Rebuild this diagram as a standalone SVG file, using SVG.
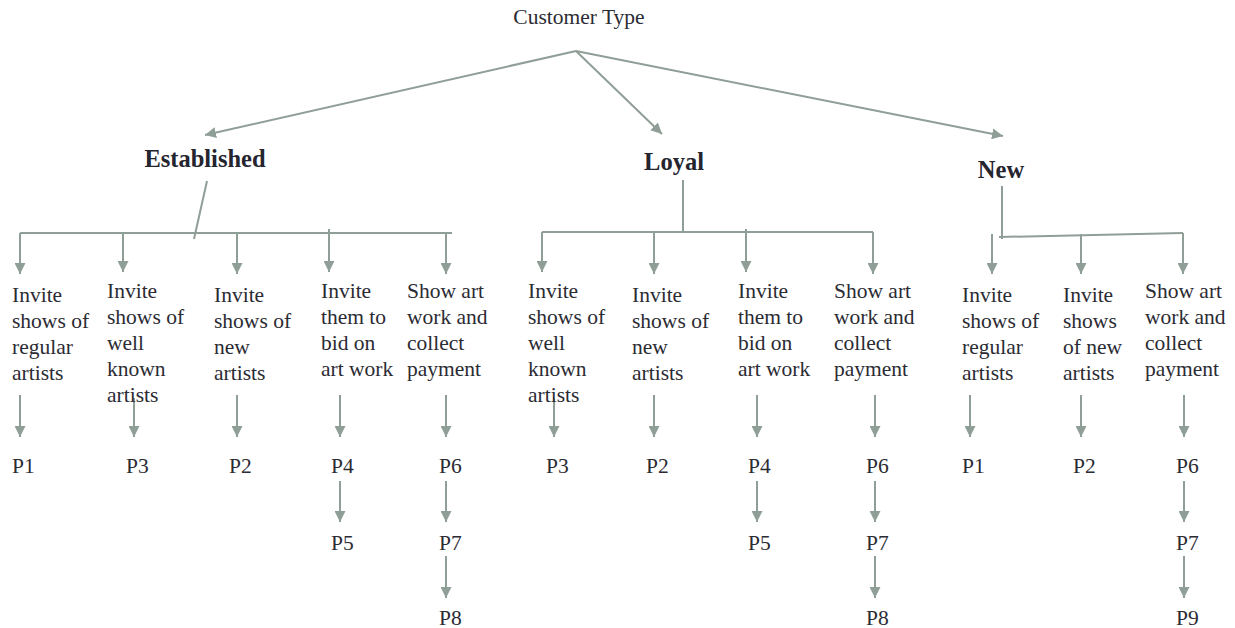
<svg xmlns="http://www.w3.org/2000/svg" width="1235" height="628" viewBox="0 0 1235 628">
  <defs>
    <marker id="arrow" markerUnits="userSpaceOnUse" markerWidth="11" markerHeight="11" refX="11" refY="5.5" orient="auto">
      <path d="M0,0 L11,5.5 L0,11 z" fill="#8f9e96"/>
    </marker>
    <style>
      .t { font-family: 'Liberation Serif', 'DejaVu Serif', serif; font-size: 21.5px; fill: #2b2b33; }
      .h { font-family: 'Liberation Serif', 'DejaVu Serif', serif; font-size: 24.5px; font-weight: bold; fill: #25252f; }
      .ln { stroke: #8f9e96; stroke-width: 2; fill: none; }
      .ar { stroke: #8f9e96; stroke-width: 2; fill: none; marker-end: url(#arrow); }
    </style>
  </defs>
  <rect width="1235" height="628" fill="#ffffff"/>

  <g id="connectors">
    <!-- root to categories -->
    <path class="ar" d="M576,51 L205,135"/>
    <path class="ar" d="M576,51 L662,134"/>
    <path class="ar" d="M576,51 L1003,136"/>

    <!-- Established branch -->
    <path class="ln" d="M207,181 L194,239"/>
    <path class="ln" d="M20,233 L452,233"/>
    <path class="ar" d="M20,233 L20,274"/>
    <path class="ar" d="M123,233 L123,272"/>
    <path class="ar" d="M237,233 L237,274"/>
    <path class="ar" d="M329,229 L329,272"/>
    <path class="ar" d="M446,233 L446,274"/>
    <path class="ar" d="M20,395 L20,437"/>
    <path class="ar" d="M134,398 L134,437"/>
    <path class="ar" d="M237,395 L237,437"/>
    <path class="ar" d="M340,395 L340,437"/>
    <path class="ar" d="M446,395 L446,437"/>
    <path class="ar" d="M340,481 L340,522"/>
    <path class="ar" d="M446,481 L446,522"/>
    <path class="ar" d="M446,556 L446,598"/>

    <!-- Loyal branch -->
    <path class="ln" d="M683,180 L683,232"/>
    <path class="ln" d="M542,232 L873,232"/>
    <path class="ar" d="M542,232 L542,272"/>
    <path class="ar" d="M654,232 L654,274"/>
    <path class="ar" d="M746,229 L746,272"/>
    <path class="ar" d="M873,232 L873,274"/>
    <path class="ar" d="M554,398 L554,437"/>
    <path class="ar" d="M654,395 L654,437"/>
    <path class="ar" d="M757,395 L757,437"/>
    <path class="ar" d="M875,395 L875,437"/>
    <path class="ar" d="M757,481 L757,522"/>
    <path class="ar" d="M875,481 L875,522"/>
    <path class="ar" d="M875,556 L875,598"/>

    <!-- New branch -->
    <path class="ln" d="M1002,186 L1002,239"/>
    <path class="ln" d="M999,237 L1183,233"/>
    <path class="ar" d="M992,234 L992,274"/>
    <path class="ar" d="M1081,234 L1081,274"/>
    <path class="ar" d="M1183,233 L1183,274"/>
    <path class="ar" d="M970,395 L970,437"/>
    <path class="ar" d="M1081,395 L1081,437"/>
    <path class="ar" d="M1184,395 L1184,437"/>
    <path class="ar" d="M1184,481 L1184,522"/>
    <path class="ar" d="M1184,556 L1184,598"/>
  </g>

  <g id="root"><text class="t" x="579" y="24" text-anchor="middle">Customer Type</text></g>

  <g id="established"><text class="h" x="205" y="167" text-anchor="middle">Established</text></g>
  <g id="loyal"><text class="h" x="674" y="170" text-anchor="middle">Loyal</text></g>
  <g id="new"><text class="h" x="1001" y="178" text-anchor="middle">New</text></g>

  <!-- Established actions -->
  <g id="e-regular"><text class="t" y="302"><tspan x="12">Invite</tspan><tspan x="12" dy="26">shows of</tspan><tspan x="12" dy="26">regular</tspan><tspan x="12" dy="26">artists</tspan></text></g>
  <g id="e-wellknown"><text class="t" y="298"><tspan x="107">Invite</tspan><tspan x="107" dy="26">shows of</tspan><tspan x="107" dy="26">well</tspan><tspan x="107" dy="26">known</tspan><tspan x="107" dy="26">artists</tspan></text></g>
  <g id="e-newartists"><text class="t" y="302"><tspan x="214">Invite</tspan><tspan x="214" dy="26">shows of</tspan><tspan x="214" dy="26">new</tspan><tspan x="214" dy="26">artists</tspan></text></g>
  <g id="e-bid"><text class="t" y="298"><tspan x="321">Invite</tspan><tspan x="321" dy="26">them to</tspan><tspan x="321" dy="26">bid on</tspan><tspan x="321" dy="26">art work</tspan></text></g>
  <g id="e-show"><text class="t" y="298"><tspan x="407">Show art</tspan><tspan x="407" dy="26">work and</tspan><tspan x="407" dy="26">collect</tspan><tspan x="407" dy="26">payment</tspan></text></g>

  <!-- Loyal actions -->
  <g id="l-wellknown"><text class="t" y="298"><tspan x="528">Invite</tspan><tspan x="528" dy="26">shows of</tspan><tspan x="528" dy="26">well</tspan><tspan x="528" dy="26">known</tspan><tspan x="528" dy="26">artists</tspan></text></g>
  <g id="l-newartists"><text class="t" y="302"><tspan x="632">Invite</tspan><tspan x="632" dy="26">shows of</tspan><tspan x="632" dy="26">new</tspan><tspan x="632" dy="26">artists</tspan></text></g>
  <g id="l-bid"><text class="t" y="298"><tspan x="738">Invite</tspan><tspan x="738" dy="26">them to</tspan><tspan x="738" dy="26">bid on</tspan><tspan x="738" dy="26">art work</tspan></text></g>
  <g id="l-show"><text class="t" y="298"><tspan x="834">Show art</tspan><tspan x="834" dy="26">work and</tspan><tspan x="834" dy="26">collect</tspan><tspan x="834" dy="26">payment</tspan></text></g>

  <!-- New actions -->
  <g id="n-regular"><text class="t" y="302"><tspan x="962">Invite</tspan><tspan x="962" dy="26">shows of</tspan><tspan x="962" dy="26">regular</tspan><tspan x="962" dy="26">artists</tspan></text></g>
  <g id="n-newartists"><text class="t" y="302"><tspan x="1063">Invite</tspan><tspan x="1063" dy="26">shows</tspan><tspan x="1063" dy="26">of new</tspan><tspan x="1063" dy="26">artists</tspan></text></g>
  <g id="n-show"><text class="t" y="298"><tspan x="1145">Show art</tspan><tspan x="1145" dy="26">work and</tspan><tspan x="1145" dy="26">collect</tspan><tspan x="1145" dy="26">payment</tspan></text></g>

  <!-- Process labels -->
  <g id="e-p1"><text class="t" x="12" y="473">P1</text></g>
  <g id="e-p3"><text class="t" x="126" y="473">P3</text></g>
  <g id="e-p2"><text class="t" x="229" y="473">P2</text></g>
  <g id="e-p4"><text class="t" x="331" y="473">P4</text></g>
  <g id="e-p5"><text class="t" x="331" y="550">P5</text></g>
  <g id="e-p6"><text class="t" x="439" y="473">P6</text></g>
  <g id="e-p7"><text class="t" x="439" y="550">P7</text></g>
  <g id="e-p8"><text class="t" x="439" y="625">P8</text></g>

  <g id="l-p3"><text class="t" x="546" y="473">P3</text></g>
  <g id="l-p2"><text class="t" x="646" y="473">P2</text></g>
  <g id="l-p4"><text class="t" x="748" y="473">P4</text></g>
  <g id="l-p5"><text class="t" x="748" y="550">P5</text></g>
  <g id="l-p6"><text class="t" x="866" y="473">P6</text></g>
  <g id="l-p7"><text class="t" x="866" y="550">P7</text></g>
  <g id="l-p8"><text class="t" x="866" y="625">P8</text></g>

  <g id="n-p1"><text class="t" x="962" y="473">P1</text></g>
  <g id="n-p2"><text class="t" x="1073" y="473">P2</text></g>
  <g id="n-p6"><text class="t" x="1176" y="473">P6</text></g>
  <g id="n-p7"><text class="t" x="1176" y="550">P7</text></g>
  <g id="n-p9"><text class="t" x="1176" y="625">P9</text></g>
</svg>
